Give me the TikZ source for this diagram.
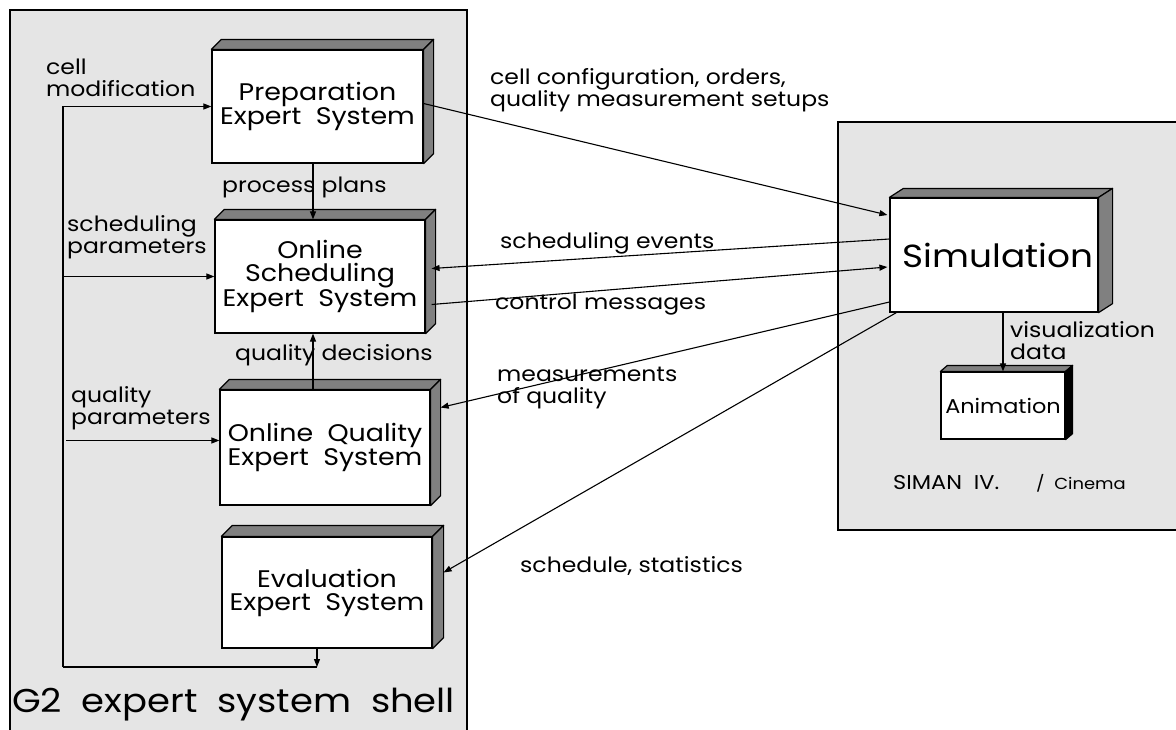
\documentclass[tikz,border=0pt]{standalone}
\usepackage{fontspec}
\setmainfont[FakeStretch=1.12]{Poppins}
\usetikzlibrary{arrows.meta,calc}
\definecolor{panelgray}{HTML}{E5E5E5}
\definecolor{facegray}{HTML}{808080}
\tikzset{
  box/.style={draw=black, fill=white, line width=1.2pt, inner sep=0pt, align=center,
    font=\fontsize{24}{23}\selectfont},
  lbl/.style={inner sep=0pt, anchor=west, align=left, font=\fontsize{21}{22}\selectfont},
  conn/.style={line width=1.1pt, -{Triangle[length=8pt,width=6pt]}},
  plain/.style={line width=1.1pt},
  panel/.style={fill=panelgray, draw=black, line width=1.2pt},
  face/.style={draw=black, line width=1.2pt, line join=round}
}
\newcommand{\tdbox}[4]{%
  \filldraw[face, fill=facegray] (#1.north west) -- ++(#2,-#3) -- ($(#1.north east)+(#2,-#3)$) -- (#1.north east) -- cycle;
  \filldraw[face, fill=#4] (#1.north east) -- ++(#2,-#3) -- ($(#1.south east)+(#2,-#3)$) -- (#1.south east) -- cycle;
}
\begin{document}
\begin{tikzpicture}[x=1pt,y=-1pt]
\clip (0,0) rectangle (1176,729);
\fill[white] (0,0) rectangle (1176,729);
% panels
\draw[panel] (10,10) rectangle (467,745);
\draw[panel] (838,122) rectangle (1190,530);

% boxes
\node[box, minimum width=211, minimum height=113] (prep) at (317.5,106.5) {Preparation\\Expert\ \ System};
\tdbox{prep}{10}{10}{facegray}
\node[box, minimum width=210, minimum height=113] (sched) at (320,276.5) {Online\\Scheduling\\Expert\ \ System};
\tdbox{sched}{10}{10}{facegray}
\node[box, minimum width=210, minimum height=115] (qual) at (325,447.5) {Online\ \ Quality\\Expert\ \ System};
\tdbox{qual}{10}{10}{facegray}
\node[box, minimum width=210, minimum height=111] (eval) at (327,592.5) {Evaluation\\Expert\ \ System};
\tdbox{eval}{11}{11}{facegray}
\node[box, minimum width=208, minimum height=114, font=\fontsize{32}{36}\selectfont] (sim) at (994,255) {\hspace*{8pt}Simulation};
\tdbox{sim}{14}{9}{facegray}
\node[box, minimum width=124, minimum height=67, font=\fontsize{20}{22}\selectfont] (anim) at (1003,405.5) {Animation};
\tdbox{anim}{7}{6}{black}

% left feedback loop
\coordinate (L2) at (63,667);
\coordinate (L3) at (317,667);
\coordinate (pp) at (313,0);
\draw[conn] (eval.south -| L3) -- (L3);
\draw[plain] (L3) -- (L2);
\draw[conn] (L2) |- (prep.west);
\draw[conn] (L2 |- sched.west) -- (sched.west);
\draw[conn] ($(L2 |- qual.west)+(3,-7)$) -- ($(qual.west)+(0,-7)$);
\draw[conn] (prep.south -| pp) -- (sched.north -| pp);
\draw[conn] (qual.north -| pp) -- (sched.south -| pp);

% to/from simulation
\draw[conn] ($(prep.east)+(0,-3)$) -- ($(sim.west)+(-2,-40)$);
\draw[conn] ($(sim.west)+(0,-16)$) -- ($(sched.east)+(6,-8)$);
\draw[conn] ($(sched.east)+(6,28)$) -- ($(sim.west)+(-2,12)$);
\draw[conn] ($(sim.west)+(0,47)$) -- ($(qual.east)+(10,-40)$);
\draw[conn] ($(sim.south west)+(7,0)$) -- ($(eval.east)+(11,-20)$);
\draw[conn] (sim.south -| anim.north) -- (anim.north);

% labels
\node[lbl] (lcm) at (46,78) {cell\\modification};
\node[lbl] (lpp) at (222,187) {process plans};
\node[lbl] (lsp) at (67,237) {scheduling\\parameters};
\node[lbl] (lqd) at (235,355) {quality decisions};
\node[lbl] (lqp) at (71,408) {quality\\parameters};
\node[lbl, font=\fontsize{33}{36}\selectfont] (lg2) at (12,705) {G2\ \ expert\ \ system\ \ shell};
\node[lbl] (lcc) at (490,90) {cell configuration, orders,\\quality measurement setups};
\node[lbl] (lse) at (500,243) {scheduling events};
\node[lbl] (lctl) at (495,305) {control messages};
\node[lbl] (lmq) at (497,388) {measurements\\of quality};
\node[lbl] (lss) at (520,566) {schedule, statistics};
\node[lbl] (lvd) at (1010,341) {visualization\\data};
\node[lbl, font=\fontsize{20}{22}\selectfont] (lsiman) at (893,483) {SIMAN\ \ IV.};
\node[lbl, font=\fontsize{16}{18}\selectfont] (lcin) at (1036,483) {/\ \ Cinema};
\end{tikzpicture}
\end{document}
